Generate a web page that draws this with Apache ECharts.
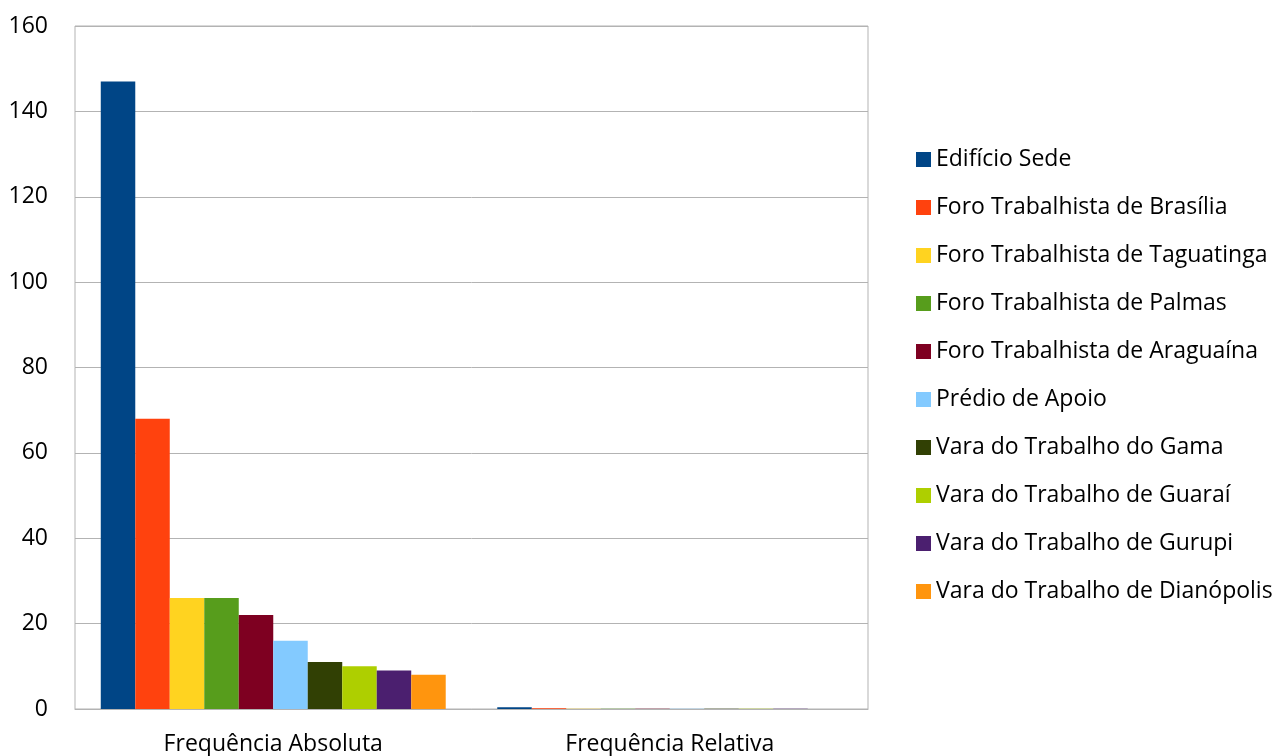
<!DOCTYPE html>
<html>
<head>
<meta charset="utf-8">
<script src="https://cdn.jsdelivr.net/npm/echarts@6/dist/echarts.min.js"></script>
<style>
  html, body { margin: 0; padding: 0; background: #fff; }
  #chart { width: 1280px; height: 756px; }
</style>
</head>
<body>
<div id="chart"></div>
<script>
const categories = ['Frequência Absoluta', 'Frequência Relativa']
const seriesNames = [
  'Edifício Sede',
  'Foro Trabalhista de Brasília',
  'Foro Trabalhista de Taguatinga',
  'Foro Trabalhista de Palmas',
  'Foro Trabalhista de Araguaína',
  'Prédio de Apoio',
  'Vara do Trabalho do Gama',
  'Vara do Trabalho de Guaraí',
  'Vara do Trabalho de Gurupi',
  'Vara do Trabalho de Dianópolis'
]
// valores absolutos
const absoluta = [147, 68, 26, 26, 22, 16, 11, 10, 9, 8]
// frequência relativa (fração) — quase invisível na escala
const relativa = [0.43, 0.20, 0.08, 0.08, 0.06, 0.05, 0.03, 0.03, 0.03, 0.02]
const colors = ['#004586', '#ff420e', '#ffd320', '#579d1c', '#7e0021',
  '#83caff', '#314004', '#aecf00', '#4b1f6f', '#ff950e']
const yTicks = [0, 20, 40, 60, 80, 100, 120, 140, 160]

const font = '"Open Sans", sans-serif'
const chart = echarts.init(document.getElementById('chart'))

const option = {
  backgroundColor: '#fff',
  animation: false,
  color: colors,
  textStyle: { fontFamily: font },
  grid: {
    left: 75,
    right: 412,
    top: 26,
    bottom: 47,
    show: true,
    borderColor: '#b3b3b3',
    borderWidth: 1
  },
  legend: {
    orient: 'vertical',
    left: 911,
    top: 143,
    itemWidth: 15,
    itemHeight: 15,
    itemGap: 25,
    icon: 'rect',
    textStyle: { fontSize: 23, color: '#000', fontFamily: font },
    data: seriesNames
  },
  xAxis: {
    type: 'category',
    data: categories,
    axisLine: { lineStyle: { color: '#b3b3b3', width: 1 } },
    axisTick: { show: false },
    axisLabel: { fontSize: 23, color: '#000', margin: 24 }
  },
  yAxis: {
    type: 'value',
    min: yTicks[0],
    max: yTicks[yTicks.length - 1],
    interval: 20,
    axisLine: { show: false },
    axisTick: { show: false },
    axisLabel: { fontSize: 23, color: '#000', margin: 27 },
    splitLine: { lineStyle: { color: '#b3b3b3', width: 1 } }
  },
  series: seriesNames.map((name, i) => ({
    name: name,
    type: 'bar',
    data: [absoluta[i], relativa[i]],
    barGap: '0%',
    barCategoryGap: '13%',
    itemStyle: { color: colors[i] }
  }))
}

chart.setOption(option)
</script>
</body>
</html>
